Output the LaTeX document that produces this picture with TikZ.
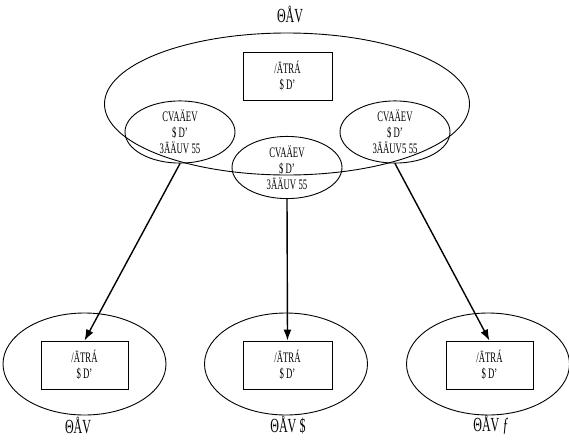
\documentclass[tikz,border=0pt]{standalone}
\usepackage{fontspec}
\setmainfont{Liberation Serif}[FakeStretch=0.6]
\usetikzlibrary{shapes.geometric, arrows.meta}
\begin{document}
\begin{tikzpicture}[x=1pt, y=-1pt, line width=0.9pt,
  oval/.style={draw, ellipse, inner sep=0pt, minimum width=#1},
  store/.style={draw, rectangle, inner sep=0pt, minimum width=87pt,
                minimum height=48pt, align=center,
                font=\fontsize{14.5}{16}\selectfont},
  inner/.style={draw, ellipse, inner sep=0pt, minimum width=110pt,
                minimum height=59pt, align=center,
                font=\fontsize{14.5}{16}\selectfont},
  caption/.style={font=\fontsize{20}{20}\selectfont, inner sep=1pt},
  link/.style={-{Latex[length=11pt, width=8pt]}, line width=1.4pt}
]
  \useasboundingbox (0,0) rectangle (569,439);
  % upper group
  \node[oval=365pt, minimum height=142pt] (grp) at (287,104) {};
  \node[caption] (grptitle) at (290,14) {ΘÅV};
  \node[store, minimum width=89pt] (top) at (287.5,76) {/ĀTRÁ\\\$ D'};
  \node[inner] (ctl1) at (180,132) {CVAÄEV\\\$ D'\\3ĀÄUV\,55};
  \node[inner] (ctl2) at (287,167.5) {CVAÄEV\\\$ D'\\3ĀÄUV\,55};
  \node[inner] (ctl3) at (395,132) {CVAÄEV\\\$ D'\\3ĀÄUV5\,55};
  % lower groups
  \node[oval=163pt, minimum height=102pt] (v1) at (84.5,364) {};
  \node[store] (s1) at (84.5,365) {/ĀTRÁ\\\$ D'};
  \node[caption] (t1) at (78,425) {ΘÅV};
  \node[oval=163pt, minimum height=102pt] (v2) at (286,364) {};
  \node[store, minimum width=89pt] (s2) at (287.5,365) {/ĀTRÁ\\\$ D'};
  \node[caption] (t2) at (288,425) {ΘÅV\,\$};
  \node[oval=163pt, minimum height=102pt] (v3) at (488,364) {};
  \node[store] (s3) at (489.5,365) {/ĀTRÁ\\\$ D'};
  \node[caption] (t3) at (491,425) {ΘÅV\,\textit{ƒ}};
  % arrows
  \draw[link] (ctl1.south) -- (s1.north);
  \draw[link] (ctl2.south) -- (s2.north);
  \draw[link] (ctl3.south) -- (s3.north);
\end{tikzpicture}
\end{document}
